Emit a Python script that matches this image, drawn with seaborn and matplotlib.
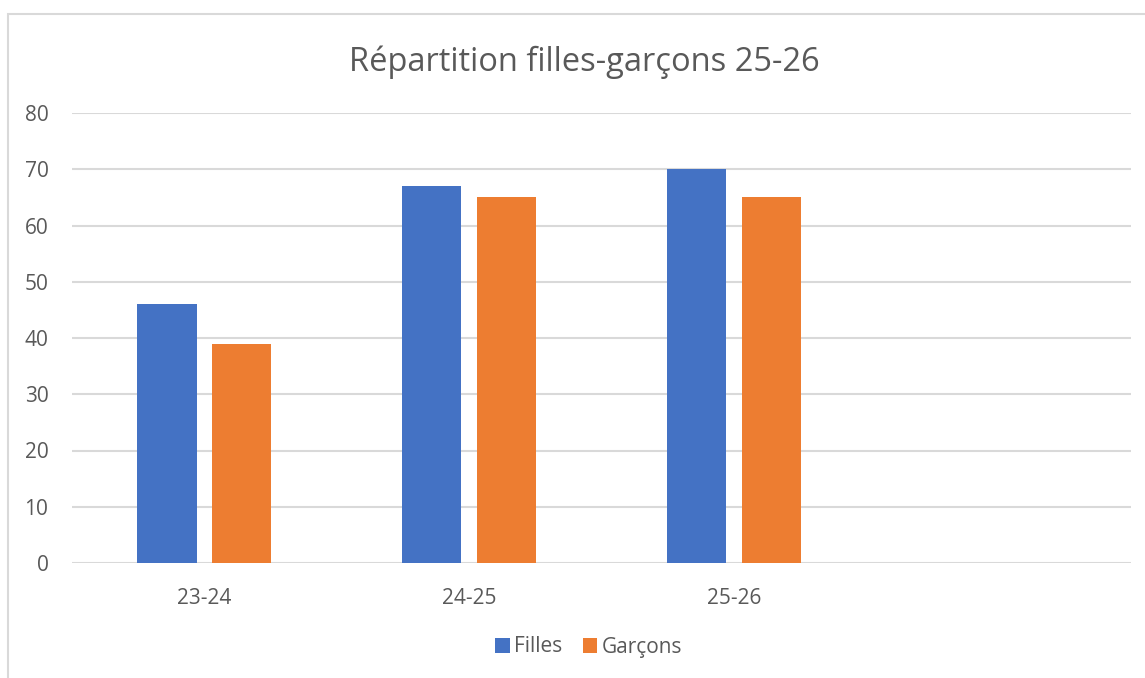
import pandas as pd
import numpy as np
import matplotlib.pyplot as plt
import seaborn as sns
from matplotlib.patches import Rectangle

# data
categories = ['23-24', '24-25', '25-26', '']
filles = [46, 67, 70, np.nan]
garcons = [39, 65, 65, np.nan]
series_names = ['Filles', 'Garçons']
yticks = [0, 10, 20, 30, 40, 50, 60, 70, 80]

df = pd.DataFrame({
    'Annee': categories * 2,
    'Valeur': filles + garcons,
    'Serie': [series_names[0]] * len(categories) + [series_names[1]] * len(categories),
})

sns.set_style('white')
plt.rcParams['font.family'] = ['Open Sans', 'DejaVu Sans']
grey = '#595959'

fig = plt.figure(figsize=(11.45, 6.78), dpi=100)
ax = fig.add_axes([72 / 1145, 1 - 563 / 678, (1131 - 72) / 1145, (563 - 113) / 678])

sns.barplot(data=df, x='Annee', y='Valeur', hue='Serie', order=categories,
            hue_order=series_names, palette=['#4472C4', '#ED7D31'], saturation=1,
            width=0.566, gap=0.21, errorbar=None, linewidth=0, ax=ax, legend=True, zorder=3)

ax.set_ylim(0, 80)
ax.set_xlim(-0.5, len(categories) - 0.5)
ax.set_yticks(yticks)
ax.yaxis.grid(True, color='#d9d9d9', linewidth=1.5, zorder=0)
ax.set_axisbelow(True)
for s in ax.spines.values():
    s.set_visible(False)
ax.tick_params(axis='both', length=0, labelsize=15, colors=grey)
ax.tick_params(axis='y', pad=17)
ax.tick_params(axis='x', pad=18)
ax.set_xlabel('')
ax.set_ylabel('')

ax.set_title('Répartition filles-garçons 25-26', fontsize=23.5, color=grey, pad=30,
             x=0.4835)

handles, labels = ax.get_legend_handles_labels()
ax.get_legend().remove()
fig.legend(handles, labels, loc='center', bbox_to_anchor=(0.514, 1 - 647 / 678), ncol=2,
           frameon=False, fontsize=15, labelcolor=grey, handlelength=0.7,
           handleheight=0.7, handletextpad=0.2, columnspacing=1.0)

# chart border like the spreadsheet frame
fig.patches.append(Rectangle((8 / 1145, -0.1), 1.2, 1 - 14 / 678 + 0.1,
                             transform=fig.transFigure, fill=False,
                             edgecolor='#d9d9d9', linewidth=1.5))

plt.savefig('out.png', dpi=100)
